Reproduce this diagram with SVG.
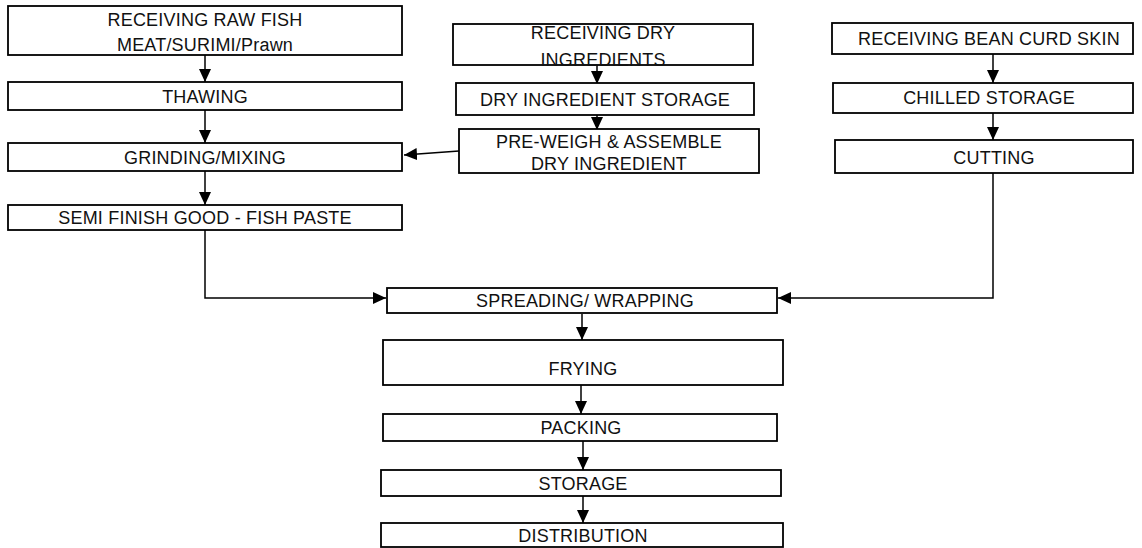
<svg xmlns="http://www.w3.org/2000/svg" width="1142" height="548" viewBox="0 0 1142 548">
<style>
.b{fill:#fff;stroke:#000;stroke-width:1.8}
.t{font-family:"Liberation Sans",Arial,sans-serif;font-size:18px;letter-spacing:0.2px;fill:#111;text-anchor:middle}
.c{fill:none;stroke:#000;stroke-width:1.5}
</style>
<defs>
<marker id="a" markerWidth="14" markerHeight="14" refX="13" refY="6" orient="auto" markerUnits="userSpaceOnUse">
<path d="M0,0 L13,6 L0,12 Z" fill="#000"/>
</marker>
</defs>
<rect width="1142" height="548" fill="#fff"/>
<g id="connectors">
<line class="c" x1="205" y1="55" x2="205" y2="82" marker-end="url(#a)"/>
<line class="c" x1="205" y1="110" x2="205" y2="143" marker-end="url(#a)"/>
<line class="c" x1="205" y1="171" x2="205" y2="205" marker-end="url(#a)"/>
<polyline class="c" points="205,230 205,298 386,298" marker-end="url(#a)"/>
<line class="c" x1="597" y1="55" x2="597" y2="84" marker-end="url(#a)"/>
<line class="c" x1="597" y1="105" x2="597" y2="130" marker-end="url(#a)"/>
<line class="c" x1="459" y1="151" x2="404" y2="155" marker-end="url(#a)"/>
<line class="c" x1="993" y1="54" x2="993" y2="83" marker-end="url(#a)"/>
<line class="c" x1="993" y1="113" x2="993" y2="140" marker-end="url(#a)"/>
<polyline class="c" points="993,173 993,298 778,298" marker-end="url(#a)"/>
<line class="c" x1="582" y1="314" x2="582" y2="340" marker-end="url(#a)"/>
<line class="c" x1="581" y1="380" x2="581" y2="414" marker-end="url(#a)"/>
<line class="c" x1="583" y1="436" x2="583" y2="470" marker-end="url(#a)"/>
<line class="c" x1="583" y1="492" x2="583" y2="523" marker-end="url(#a)"/>
</g>
<g id="n1"><rect class="b" x="8" y="6" width="394" height="49"/><text class="t" x="205" y="26">RECEIVING RAW FISH</text><text class="t" x="205" y="51">MEAT/SURIMI/Prawn</text></g>
<g id="n2"><rect class="b" x="8" y="82" width="394" height="28"/><text class="t" x="205" y="103">THAWING</text></g>
<g id="n3"><rect class="b" x="8" y="143" width="394" height="28"/><text class="t" x="205" y="164">GRINDING/MIXING</text></g>
<g id="n4"><rect class="b" x="8" y="205" width="394" height="25"/><text class="t" x="205" y="224">SEMI FINISH GOOD - FISH PASTE</text></g>
<g id="n5"><rect class="b" x="453" y="24" width="300" height="41"/><text class="t" x="603" y="39">RECEIVING DRY</text><text class="t" x="603" y="66">INGREDIENTS</text></g>
<g id="n6"><rect class="b" x="456" y="83" width="298" height="32"/><text class="t" x="605" y="106">DRY INGREDIENT STORAGE</text></g>
<g id="n7"><rect class="b" x="459" y="129" width="300" height="44"/><text class="t" x="609" y="148">PRE-WEIGH &amp; ASSEMBLE</text><text class="t" x="609" y="170">DRY INGREDIENT</text></g>
<g id="n8"><rect class="b" x="832" y="23" width="301" height="31"/><text class="t" x="989" y="45">RECEIVING BEAN CURD SKIN</text></g>
<g id="n9"><rect class="b" x="833" y="83" width="300" height="30"/><text class="t" x="989" y="104">CHILLED STORAGE</text></g>
<g id="n10"><rect class="b" x="835" y="140" width="298" height="33"/><text class="t" x="994" y="164">CUTTING</text></g>
<g id="n11"><rect class="b" x="387" y="288" width="390" height="25"/><text class="t" x="585" y="307">SPREADING/ WRAPPING</text></g>
<g id="n12"><rect class="b" x="383" y="340" width="400" height="45"/><text class="t" x="583" y="375">FRYING</text></g>
<g id="n13"><rect class="b" x="383" y="414" width="394" height="27"/><text class="t" x="581" y="434">PACKING</text></g>
<g id="n14"><rect class="b" x="381" y="470" width="400" height="26"/><text class="t" x="583" y="490">STORAGE</text></g>
<g id="n15"><rect class="b" x="381" y="523" width="402" height="24"/><text class="t" x="583" y="542">DISTRIBUTION</text></g>
</svg>
